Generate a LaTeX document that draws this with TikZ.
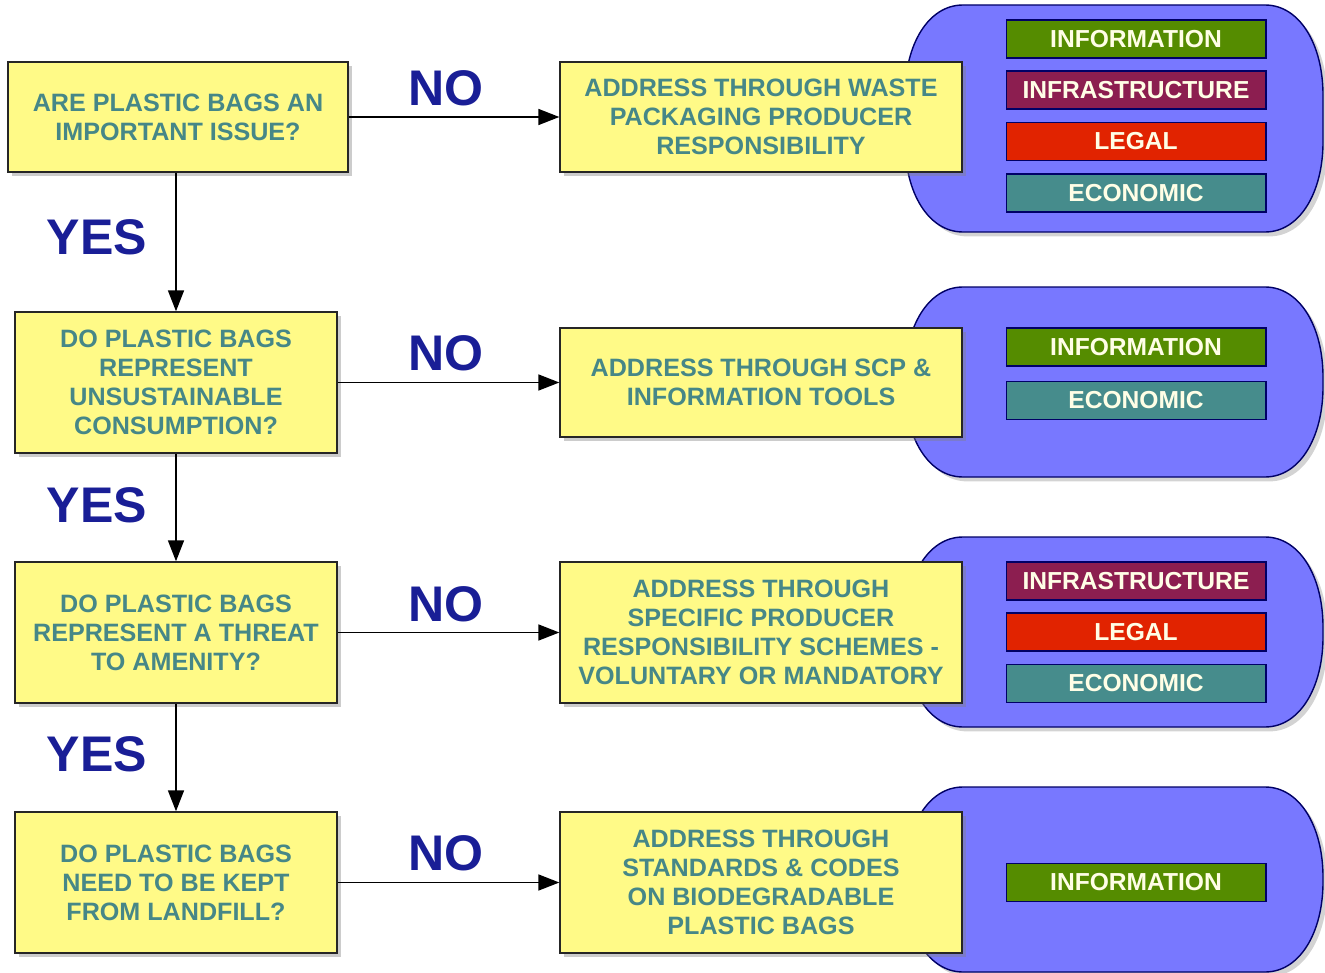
\documentclass[tikz,border=0pt]{standalone}
\usepackage{fontspec}
\setmainfont{Liberation Sans}
\usetikzlibrary{arrows.meta,shadows}
\definecolor{boxyellow}{RGB}{255,250,135}
\definecolor{panelblue}{RGB}{120,120,255}
\definecolor{boxtext}{RGB}{70,135,135}
\definecolor{yesno}{RGB}{25,30,150}
\definecolor{taginfo}{RGB}{85,140,0}
\definecolor{taginfra}{RGB}{140,30,80}
\definecolor{taglegal}{RGB}{225,35,0}
\definecolor{tagecon}{RGB}{70,140,140}

\tikzset{
  question/.style={rectangle, draw=black!85, line width=0.8pt, fill=boxyellow, text=boxtext,
    align=center, inner sep=0pt, minimum width=6.44cm, minimum height=2.82cm,
    font=\bfseries\fontsize{14.3}{16.5}\selectfont,
    drop shadow={shadow xshift=2.5pt, shadow yshift=-2.5pt, opacity=0.4}},
  answer/.style={question, minimum width=8.04cm},
  tag/.style={rectangle, draw=black!60!blue, line width=0.6pt, text=white!90!yellow,
    minimum width=5.2cm, minimum height=0.76cm, inner sep=0pt,
    font=\bfseries\fontsize{14}{15}\selectfont},
  decision/.style={text=yesno, inner sep=0pt, font=\bfseries\fontsize{28.5}{30}\selectfont},
  flow/.style={-{Triangle[length=0.42cm,width=0.32cm]}, line width=0.9pt},
  panel/.style={draw=black!60!blue, line width=0.8pt, fill=panelblue,
    drop shadow={shadow xshift=2.5pt, shadow yshift=-2.5pt, opacity=0.35}}
}

% rounded blue panel between top and bottom pixel rows
\newcommand\optionpanel[2]{%
  \path[panel] (963,#1) -- (1265,#1)
    .. controls (1300,#1) and (1323,{#1+40}) .. (1323,{#1+90})
    -- (1323,{#2-90})
    .. controls (1323,{#2-40}) and (1300,#2) .. (1265,#2)
    -- (963,#2)
    .. controls (928,#2) and (905,{#2-40}) .. (905,{#2-90})
    -- (905,{#1+90})
    .. controls (905,{#1+40}) and (928,#1) .. (963,#1) -- cycle;}

\begin{document}
\begin{tikzpicture}[x=0.02cm, y=-0.02cm]
\useasboundingbox (0,0) rectangle (1325,973);

\optionpanel{5}{232}
\optionpanel{287}{477}
\optionpanel{537}{727}
\optionpanel{787}{972}

\node[question, minimum width=6.8cm, minimum height=2.2cm] (Q1) at (178,117) {ARE PLASTIC BAGS AN\\IMPORTANT ISSUE?};
\node[question] (Q2) at (176,382.5) {DO PLASTIC BAGS\\REPRESENT\\UNSUSTAINABLE\\CONSUMPTION?};
\node[question] (Q3) at (176,632.5) {DO PLASTIC BAGS\\REPRESENT A THREAT\\TO AMENITY?};
\node[question] (Q4) at (176,882.5) {DO PLASTIC BAGS\\NEED TO BE KEPT\\FROM LANDFILL?};

\node[answer, minimum height=2.2cm] (A1) at (761,117) {ADDRESS THROUGH WASTE\\PACKAGING PRODUCER\\RESPONSIBILITY};
\node[answer, minimum height=2.18cm] (A2) at (761,382.5) {ADDRESS THROUGH SCP \&\\INFORMATION TOOLS};
\node[answer] (A3) at (761,632.5) {ADDRESS THROUGH\\SPECIFIC PRODUCER\\RESPONSIBILITY SCHEMES -\\VOLUNTARY OR MANDATORY};
\node[answer] (A4) at (761,882.5) {ADDRESS THROUGH\\STANDARDS \& CODES\\ON BIODEGRADABLE\\PLASTIC BAGS};

\node[tag, fill=taginfo] (T11) at (1136,39) {INFORMATION};
\node[tag, fill=taginfra] (T12) at (1136,90) {INFRASTRUCTURE};
\node[tag, fill=taglegal] (T13) at (1136,141.5) {LEGAL};
\node[tag, fill=tagecon] (T14) at (1136,193) {ECONOMIC};

\node[tag, fill=taginfo] (T21) at (1136,347) {INFORMATION};
\node[tag, fill=tagecon] (T22) at (1136,400.5) {ECONOMIC};

\node[tag, fill=taginfra] (T31) at (1136,581) {INFRASTRUCTURE};
\node[tag, fill=taglegal] (T32) at (1136,632) {LEGAL};
\node[tag, fill=tagecon] (T33) at (1136,683.5) {ECONOMIC};

\node[tag, fill=taginfo] (T41) at (1136,882.5) {INFORMATION};

\node[decision] (N1) at (446,88) {NO};
\node[decision] (N2) at (446,353) {NO};
\node[decision] (N3) at (446,604) {NO};
\node[decision] (N4) at (446,853) {NO};
\node[decision] (Y1) at (97,237) {YES};
\node[decision] (Y2) at (97,505) {YES};
\node[decision] (Y3) at (97,754) {YES};

\draw[flow] (Q1) -- (A1);
\draw[flow] (Q2) -- (A2);
\draw[flow] (Q3) -- (A3);
\draw[flow] (Q4) -- (A4);
\draw[flow] (Q1.south -| Q2.north) -- (Q2.north);
\draw[flow] (Q2) -- (Q3);
\draw[flow] (Q3) -- (Q4);

\end{tikzpicture}
\end{document}
